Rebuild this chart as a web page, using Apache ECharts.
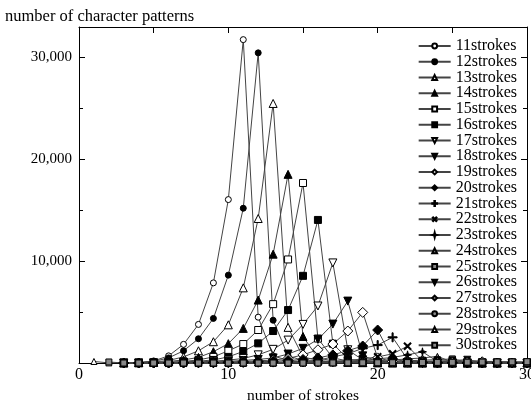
<!DOCTYPE html>
<html><head><meta charset="utf-8">
<script src="https://cdn.jsdelivr.net/npm/echarts@6/dist/echarts.min.js"></script>
<style>html,body{margin:0;padding:0;background:#fff}#c{width:531px;height:401px}</style>
</head><body><div id="c"></div>
<script>
var strokes = [1,2,3,4,5,6,7,8,9,10,11,12,13,14,15,16,17,18,19,20,21,22,23,24,25,26,27,28,29,30];
var xTicks = [0,10,20,30];
var yTicks = [10000,20000,30000];
var names = ['11strokes','12strokes','13strokes','14strokes','15strokes','16strokes','17strokes','18strokes','19strokes','20strokes','21strokes','22strokes','23strokes','24strokes','25strokes','26strokes','27strokes','28strokes','29strokes','30strokes'];
var s11 = [null,null,10,50,200,700,1830,3790,7870,16050,31760,4500,700,250,120,60,30,20,10,10,5,5,0,0,0,0,0,0,0,0];
var s12 = [null,null,5,30,150,500,1200,2380,4380,8630,15200,30460,4200,700,250,120,60,30,20,10,5,5,0,0,0,0,0,0,0,0];
var s13 = [null,null,10,40,100,250,600,1200,2090,3750,7380,14190,25490,3500,600,250,120,60,30,20,10,5,5,0,0,0,0,0,0,0];
var s14 = [null,null,5,20,60,150,300,550,1110,1900,3400,6180,10690,18530,2600,500,200,100,50,30,15,10,5,0,0,0,0,0,0,0];
var s15 = [null,null,5,10,30,80,150,300,600,1200,1860,3240,5780,10170,17680,2400,500,200,100,50,30,15,10,5,0,0,0,0,0,0];
var s16 = [null,null,0,5,20,50,100,180,300,600,1140,1930,3140,5200,8560,14050,1900,400,150,80,40,20,10,5,0,0,0,0,0,0];
var s17 = [null,null,0,0,10,30,60,100,180,280,450,800,1340,2250,3790,5600,9830,1300,300,120,60,30,15,10,5,0,0,0,0,0];
var s18 = [null,null,0,0,5,15,30,60,100,160,250,350,500,880,1440,2320,3820,6080,700,200,80,40,20,10,5,0,0,0,0,0];
var s19 = [null,null,0,0,0,10,20,40,60,100,150,200,300,450,800,1300,1860,3140,4970,500,150,60,30,15,5,0,0,0,0,0];
var s20 = [null,null,0,0,0,5,10,20,30,50,80,120,170,250,350,500,800,1210,1670,3240,400,120,50,20,10,5,0,0,0,0];
var s21 = [null,null,0,0,0,0,5,10,20,30,40,50,80,120,180,260,600,900,1440,1760,2520,350,100,40,20,10,5,0,0,0];
var s22 = [null,null,0,0,0,0,0,5,10,15,20,30,40,60,90,130,180,250,400,600,900,1650,200,60,20,10,5,0,0,0];
var s23 = [null,null,0,0,0,0,0,0,5,10,15,20,30,40,50,80,120,180,260,400,550,800,1100,150,50,20,10,5,0,0];
var s24 = [null,null,0,0,0,0,0,0,0,5,10,15,20,25,30,40,60,100,150,220,300,400,500,650,100,40,15,5,0,0];
var s25 = [null,null,0,0,0,0,0,0,0,0,5,10,15,20,25,30,40,50,80,120,160,220,280,330,400,80,30,10,5,0];
var s26 = [null,null,0,0,0,0,0,0,0,0,0,5,10,15,20,25,30,40,50,60,90,120,160,200,250,320,60,20,5,0];
var s27 = [null,null,0,0,0,0,0,0,0,0,0,0,5,10,15,20,25,30,40,50,60,80,100,130,160,190,220,50,15,5];
var s28 = [null,null,0,0,0,0,0,0,0,0,0,0,0,5,10,15,20,25,30,40,50,60,70,90,110,130,145,160,40,10];
var s29 = [150,10,0,0,0,0,0,0,0,0,0,0,0,0,5,10,15,20,25,30,40,50,60,70,80,90,100,110,120,30];
var s30 = [null,100,0,0,0,0,0,0,0,0,0,0,0,0,0,5,10,15,20,25,30,40,50,60,70,80,90,100,110,130];
var values = [s11,s12,s13,s14,s15,s16,s17,s18,s19,s20,s21,s22,s23,s24,s25,s26,s27,s28,s29,s30];

var DOWN = 'path://M0,0 L10,0 L5,10 Z';
var PLUS = 'path://M4.4,0 L5.6,0 L5.6,4.4 L10,4.4 L10,5.6 L5.6,5.6 L5.6,10 L4.4,10 L4.4,5.6 L0,5.6 L0,4.4 L4.4,4.4 Z';
var STAR = 'path://M5,0 L5.9,3.6 L10,5 L5.9,6.4 L5,10 L4.1,6.4 L0,5 L4.1,3.6 Z';
var open = {color:'#fff', borderColor:'#000', borderWidth:1};
var fill = {color:'#000', borderColor:'#000', borderWidth:1};
var grayf = {color:'#888', borderColor:'#000', borderWidth:1};
var marks = [
  ['circle',6,open,0],['circle',6,fill,0],['triangle',8,open,0],['triangle',8,fill,0],
  ['rect',7,open,0],['rect',7,fill,0],[DOWN,8,open,0],[DOWN,8,fill,0],
  ['diamond',10,open,0],['diamond',10,fill,0],[PLUS,9,fill,0],[PLUS,9,fill,45],
  [STAR,8,fill,0],['triangle',6,grayf,0],['rect',6,grayf,0],[DOWN,7,fill,0],
  ['diamond',8,grayf,0],['circle',5,grayf,0],['triangle',6,open,0],['rect',6,grayf,0]
];
var series = names.map(function(n,i){
  var d = [];
  for (var k=0;k<strokes.length;k++){ if (values[i][k]!==null) d.push([strokes[k], values[i][k]]); }
  return {name:n, type:'line', data:d, symbol:marks[i][0], symbolSize:marks[i][1], symbolRotate:marks[i][3],
    itemStyle:marks[i][2], lineStyle:{color:'#444', width:1}, showAllSymbol:true, animation:false};
});
var F = 'Liberation Serif';
function tk(len){ return {show:true, inside:true, length:len, lineStyle:{color:'#000', width:1}}; }
function mt(len){ return {show:true, splitNumber:2, length:len, lineStyle:{color:'#000', width:1}}; }
var AL = {show:true, onZero:false, lineStyle:{color:'#000', width:1}};
var chart = echarts.init(document.getElementById('c'));
chart.setOption({
  animation:false,
  textStyle:{fontFamily:F, color:'#000'},
  grid:{left:79, right:4, top:27, bottom:38, containLabel:false, outerBoundsMode:'none'},
  legend:{orient:'vertical', right:9, top:33, itemWidth:32, itemHeight:6, itemGap:-0.25,
    textStyle:{fontFamily:F, fontSize:16, color:'#000'}, data:names},
  xAxis:[{type:'value', min:0, max:30, interval:10, position:'bottom',
    name:'number of strokes', nameLocation:'middle', nameGap:21, nameTextStyle:{fontFamily:F, fontSize:15.5, color:'#000'},
    axisLine:AL, axisTick:tk(6), minorTick:mt(4), splitLine:{show:false},
    axisLabel:{fontFamily:F, fontSize:16, color:'#000', margin:4, formatter:function(v){return xTicks.indexOf(v)>=0?String(v):'';}}},
   {type:'value', min:0, max:30, interval:10, position:'top',
    axisLine:AL, axisTick:tk(6), minorTick:mt(6), splitLine:{show:false}, axisLabel:{show:false}}],
  yAxis:[{type:'value', min:0, max:33000, interval:10000, position:'left',
    name:'number of character patterns', nameLocation:'end', nameGap:2,
    nameTextStyle:{fontFamily:F, fontSize:16.5, color:'#000', align:'left', padding:[0,0,0,-74]},
    axisLine:AL, axisTick:tk(6), minorTick:mt(4), splitLine:{show:false},
    axisLabel:{fontFamily:F, fontSize:15, color:'#000', margin:7, formatter:function(v){return yTicks.indexOf(v)>=0?v.toLocaleString('en-US'):'';}}},
   {type:'value', min:0, max:33000, interval:10000, position:'right',
    axisLine:AL, axisTick:tk(6), minorTick:mt(4), splitLine:{show:false}, axisLabel:{show:false}}],
  series:series
});
</script></body></html>
